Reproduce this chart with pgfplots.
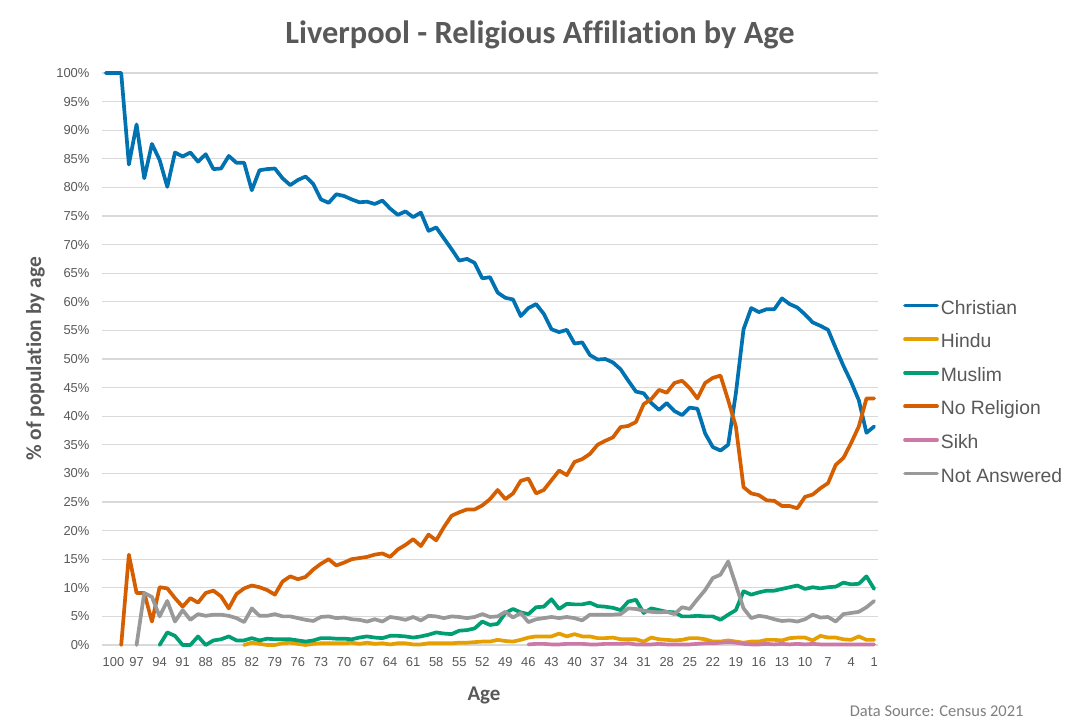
\documentclass[border=0pt]{standalone}
\usepackage{fontspec}
\setmainfont{Liberation Sans}
\newfontfamily\carlito[Ligatures=NoCommon]{Carlito}
\usepackage{pgfplots}
\pgfplotsset{compat=1.18}
\usepackage{pgfplotstable}

\definecolor{cChr}{HTML}{0072B2}
\definecolor{cHin}{HTML}{E69F00}
\definecolor{cMus}{HTML}{009E73}
\definecolor{cNoR}{HTML}{D55E00}
\definecolor{cSik}{HTML}{CC79A7}
\definecolor{cNA}{HTML}{999999}
\definecolor{txt}{HTML}{595959}
\definecolor{gridc}{HTML}{D9D9D9}
\definecolor{srcc}{HTML}{7F7F7F}

\pgfplotstableread{
age val
101 100
100 100
99 100
98 84.0
97 91.0
96 81.6
95 87.6
94 84.8
93 80.1
92 86.1
91 85.4
90 86.1
89 84.5
88 85.8
87 83.2
86 83.3
85 85.5
84 84.3
83 84.3
82 79.5
81 83.0
80 83.2
79 83.3
78 81.6
77 80.4
76 81.3
75 81.9
74 80.6
73 77.9
72 77.3
71 78.8
70 78.5
69 77.9
68 77.4
67 77.5
66 77.1
65 77.7
64 76.3
63 75.2
62 75.8
61 74.8
60 75.6
59 72.4
58 73.0
57 71.1
56 69.2
55 67.2
54 67.5
53 66.8
52 64.1
51 64.3
50 61.6
49 60.7
48 60.4
47 57.5
46 58.9
45 59.6
44 57.9
43 55.2
42 54.7
41 55.1
40 52.7
39 52.9
38 50.7
37 49.9
36 50.0
35 49.4
34 48.2
33 46.2
32 44.3
31 44.0
30 42.3
29 41.1
28 42.3
27 40.9
26 40.2
25 41.5
24 41.3
23 37.0
22 34.6
21 34.0
20 35.0
19 44.0
18 55.2
17 58.9
16 58.2
15 58.7
14 58.7
13 60.6
12 59.6
11 59.0
10 57.8
9 56.4
8 55.8
7 55.1
6 51.9
5 48.8
4 46.0
3 42.8
2 37.1
1 38.2
}\christian

\pgfplotstableread{
age val
83 0
82 0.4
81 0.2
80 0
79 0
78 0.3
77 0.4
76 0.2
75 0
74 0.2
73 0.3
72 0.3
71 0.3
70 0.3
69 0.4
68 0.2
67 0.4
66 0.2
65 0.3
64 0.1
63 0.3
62 0.3
61 0.1
60 0.1
59 0.3
58 0.3
57 0.3
56 0.3
55 0.4
54 0.4
53 0.5
52 0.6
51 0.6
50 0.9
49 0.7
48 0.6
47 0.9
46 1.3
45 1.5
44 1.5
43 1.5
42 2.0
41 1.5
40 1.9
39 1.5
38 1.5
37 1.2
36 1.2
35 1.3
34 1.0
33 1.0
32 1.0
31 0.6
30 1.3
29 1.0
28 0.9
27 0.8
26 0.9
25 1.2
24 1.2
23 1.0
22 0.6
21 0.6
20 0.8
19 0.6
18 0.4
17 0.6
16 0.6
15 0.9
14 0.9
13 0.8
12 1.2
11 1.3
10 1.3
9 0.8
8 1.6
7 1.3
6 1.3
5 1.0
4 0.9
3 1.5
2 0.9
1 0.9
}\hindu

\pgfplotstableread{
age val
94 0
93 2.2
92 1.6
91 0
90 0
89 1.5
88 0
87 0.8
86 1.0
85 1.5
84 0.8
83 0.8
82 1.2
81 0.8
80 1.1
79 1.0
78 1.0
77 1.0
76 0.8
75 0.6
74 0.8
73 1.2
72 1.2
71 1.1
70 1.1
69 1.0
68 1.3
67 1.5
66 1.3
65 1.2
64 1.6
63 1.6
62 1.5
61 1.3
60 1.5
59 1.8
58 2.2
57 2.0
56 1.9
55 2.5
54 2.6
53 2.9
52 4.1
51 3.5
50 3.7
49 5.6
48 6.3
47 5.7
46 5.4
45 6.6
44 6.7
43 8.0
42 6.3
41 7.2
40 7.1
39 7.1
38 7.4
37 6.8
36 6.7
35 6.5
34 6.1
33 7.6
32 7.9
31 5.6
30 6.4
29 6.1
28 5.8
27 5.7
26 5.0
25 5.0
24 5.1
23 5.0
22 5.0
21 4.4
20 5.3
19 6.1
18 9.4
17 8.8
16 9.2
15 9.5
14 9.5
13 9.8
12 10.1
11 10.4
10 9.8
9 10.1
8 9.9
7 10.1
6 10.2
5 10.9
4 10.6
3 10.7
2 12.0
1 9.8
}\muslim

\pgfplotstableread{
age val
99 0
98 15.8
97 9.1
96 9.1
95 4.1
94 10.1
93 9.9
92 8.2
91 6.7
90 8.2
89 7.4
88 9.1
87 9.5
86 8.5
85 6.4
84 8.9
83 9.9
82 10.4
81 10.1
80 9.6
79 8.8
78 11.1
77 12.0
76 11.5
75 11.9
74 13.2
73 14.2
72 15.0
71 13.9
70 14.4
69 15.0
68 15.2
67 15.4
66 15.8
65 16.0
64 15.4
63 16.7
62 17.5
61 18.5
60 17.3
59 19.3
58 18.3
57 20.6
56 22.6
55 23.2
54 23.7
53 23.7
52 24.4
51 25.5
50 27.1
49 25.5
48 26.5
47 28.7
46 29.1
45 26.5
44 27.1
43 28.8
42 30.5
41 29.7
40 32.0
39 32.5
38 33.4
37 35.0
36 35.7
35 36.3
34 38.1
33 38.3
32 39.0
31 42.1
30 43.0
29 44.6
28 44.1
27 45.8
26 46.2
25 44.9
24 43.1
23 45.8
22 46.7
21 47.1
20 42.8
19 38.2
18 27.6
17 26.5
16 26.2
15 25.3
14 25.2
13 24.3
12 24.3
11 23.9
10 25.9
9 26.3
8 27.4
7 28.3
6 31.5
5 32.7
4 35.3
3 38.2
2 43.1
1 43.1
}\noreligion

\pgfplotstableread{
age val
46 0.1
45 0.2
44 0.2
43 0.1
42 0.1
41 0.2
40 0.2
39 0.2
38 0.1
37 0.1
36 0.2
35 0.2
34 0.2
33 0.3
32 0.1
31 0.1
30 0.1
29 0.2
28 0.1
27 0.1
26 0.1
25 0.1
24 0.2
23 0.3
22 0.3
21 0.4
20 0.5
19 0.4
18 0.2
17 0.1
16 0.1
15 0.2
14 0.1
13 0.2
12 0.1
11 0.2
10 0.1
9 0.2
8 0.1
7 0.1
6 0.1
5 0.1
4 0.1
3 0.1
2 0.1
1 0.1
}\sikh

\pgfplotstableread{
age val
97 0
96 9.1
95 8.4
94 5.0
93 7.7
92 4.1
91 6.1
90 4.4
89 5.4
88 5.1
87 5.3
86 5.3
85 5.1
84 4.7
83 4.0
82 6.4
81 5.1
80 5.1
79 5.4
78 5.0
77 5.0
76 4.7
75 4.4
74 4.2
73 4.9
72 5.0
71 4.7
70 4.8
69 4.5
68 4.4
67 4.1
66 4.5
65 4.1
64 4.9
63 4.7
62 4.4
61 4.9
60 4.3
59 5.1
58 5.0
57 4.7
56 5.0
55 4.9
54 4.7
53 4.9
52 5.4
51 4.9
50 5.0
49 5.8
48 4.8
47 5.6
46 4.0
45 4.5
44 4.7
43 4.9
42 4.7
41 4.9
40 4.7
39 4.3
38 5.3
37 5.3
36 5.3
35 5.3
34 5.4
33 6.4
32 6.3
31 6.0
30 5.8
29 5.7
28 5.8
27 5.4
26 6.6
25 6.3
24 8.0
23 9.6
22 11.7
21 12.3
20 14.6
19 10.5
18 6.4
17 4.7
16 5.1
15 4.9
14 4.5
13 4.2
12 4.3
11 4.1
10 4.5
9 5.3
8 4.8
7 4.9
6 4.1
5 5.4
4 5.6
3 5.8
2 6.6
1 7.7
}\notanswered

\begin{document}
\begin{tikzpicture}
\path[use as bounding box, fill=white] (0,0) rectangle (1080bp,727bp);
\begin{axis}[
  at={(102bp,82bp)}, anchor=south west,
  width=776bp, height=572bp, scale only axis,
  xmin=0.5, xmax=101.5, x dir=reverse,
  ymin=0, ymax=100,
  xtick={100,97,...,1},
  ytick={0,5,...,100},
  yticklabel={\pgfmathprintnumber{\tick}\%},
  /pgf/number format/assume math mode=true,
  axis line style={draw=none},
  major tick length=0pt,
  ymajorgrids,
  grid style={gridc, line width=1.3bp},
  tick label style={font=\fontsize{13}{14}\selectfont, text=txt},
  xticklabel style={yshift=-9bp},
  yticklabel style={xshift=-9bp},
  clip=false,
  legend style={at={(1.0322,0.4405)}, anchor=west, draw=none, fill=none,
    font=\fontsize{19.4}{22}\selectfont, text=txt, inner sep=0pt,
    row sep=15.6bp, column sep=2bp,
    nodes={inner sep=0pt, text height=14bp, text depth=4bp}},
  legend cell align=left,
  legend image code/.code={\draw[#1] (0bp,3.5bp) -- (32bp,3.5bp);},
  every axis plot/.append style={line width=3.7bp, line join=round, line cap=round},
]
\addplot[cChr] table[x=age, y=val] {\christian};
\addplot[cHin] table[x=age, y=val] {\hindu};
\addplot[cMus] table[x=age, y=val] {\muslim};
\addplot[cNoR] table[x=age, y=val] {\noreligion};
\addplot[cSik] table[x=age, y=val] {\sikh};
\addplot[cNA] table[x=age, y=val] {\notanswered};
\legend{Christian, Hindu, Muslim, No Religion, Sikh, Not Answered}
\end{axis}
\node[anchor=base, font=\carlito\bfseries\fontsize{32.5}{36}\selectfont, text=txt] at (540bp,683.7bp) {Liverpool - Religious Affiliation by Age};
\node[anchor=base, font=\carlito\bfseries\fontsize{21}{24}\selectfont, text=txt] at (484bp,27bp) {Age};
\node[anchor=base, rotate=90, font=\carlito\bfseries\fontsize{21.5}{24}\selectfont, text=txt] at (41bp,368bp) {\% of population by age};
\node[anchor=base east, font=\carlito\fontsize{16.5}{18}\selectfont, text=srcc] at (1027bp,11bp) {Data Source: Census 2021};
\end{tikzpicture}
\end{document}
